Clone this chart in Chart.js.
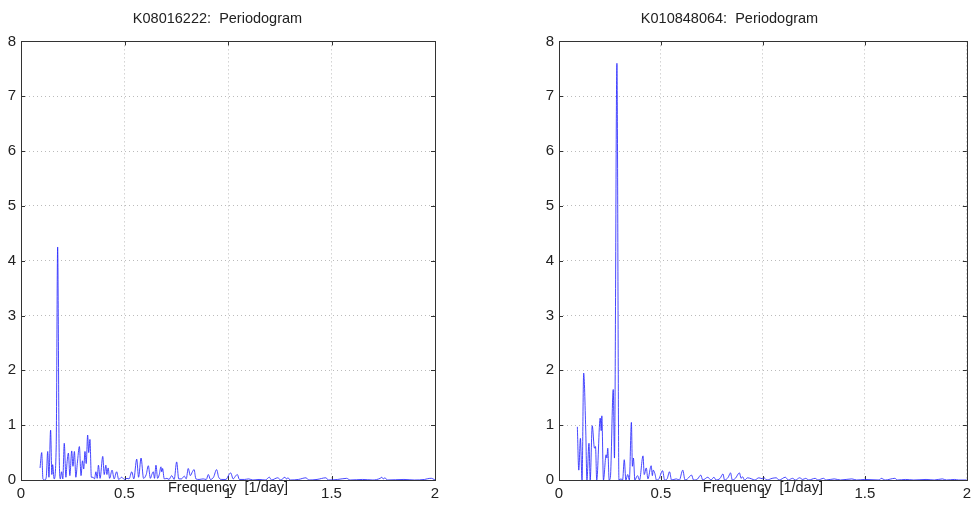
<!DOCTYPE html>
<html>
<head>
<meta charset="utf-8">
<script src="https://cdn.jsdelivr.net/npm/chart.js@4"></script>
<style>
  html, body { margin: 0; padding: 0; background: #fff; }
  .panel { position: absolute; top: 0; width: 488px; height: 526px; }
</style>
</head>
<body>
<div class="panel" style="left:0"><canvas id="chartA"></canvas></div>
<div class="panel" style="left:488px"><canvas id="chartB"></canvas></div>
<script>
// ======================
// Data
// ======================
const titleA = "K08016222:  Periodogram";
const titleB = "K010848064:  Periodogram";
const xTitle = "Frequency  [1/day]";

const freqA = [
  0.092, 0.100, 0.106, 0.115, 0.122, 0.129, 0.135, 0.143, 0.149, 0.153,
  0.160, 0.170, 0.177, 0.184, 0.190, 0.196, 0.202, 0.209, 0.217, 0.222,
  0.229, 0.236, 0.245, 0.251, 0.258, 0.265, 0.272, 0.282, 0.290, 0.297,
  0.303, 0.309, 0.315, 0.322, 0.327, 0.333, 0.340, 0.348, 0.355, 0.362,
  0.368, 0.374, 0.382, 0.395, 0.402, 0.410, 0.415, 0.421, 0.428, 0.440,
  0.450, 0.462, 0.472, 0.486, 0.500, 0.512, 0.522, 0.535, 0.545, 0.559,
  0.568, 0.580, 0.592, 0.605, 0.615, 0.625, 0.632, 0.639, 0.645, 0.652,
  0.660, 0.668, 0.676, 0.680, 0.684, 0.692, 0.705, 0.715, 0.728, 0.740,
  0.752, 0.762, 0.775, 0.789, 0.798, 0.808, 0.818, 0.828, 0.836, 0.845,
  0.860, 0.880, 0.895, 0.905, 0.915, 0.930, 0.945, 0.955, 0.970, 0.990,
  1.005, 1.013, 1.025, 1.038, 1.045, 1.055, 1.080, 1.100, 1.120, 1.150,
  1.180, 1.200, 1.210, 1.240, 1.255, 1.275, 1.282, 1.290, 1.300, 1.340,
  1.377, 1.390, 1.430, 1.473, 1.485, 1.530, 1.573, 1.590, 1.650, 1.700,
  1.735, 1.743, 1.750, 1.758, 1.770, 1.850, 1.900, 1.950, 1.975, 1.984,
  1.995, 2.000
];
const powerA = [
  0.22, 0.50, 0.02, 0.00, 0.05, 0.52, 0.05, 0.91, 0.10, 0.28,
  0.02, 0.60, 4.25, 0.60, 0.02, 0.15, 0.02, 0.67, 0.05, 0.30,
  0.49, 0.08, 0.53, 0.25, 0.52, 0.05, 0.30, 0.61, 0.08, 0.35,
  0.20, 0.52, 0.30, 0.82, 0.50, 0.74, 0.05, 0.05, 0.02, 0.15,
  0.03, 0.27, 0.03, 0.43, 0.10, 0.27, 0.10, 0.22, 0.03, 0.18,
  0.02, 0.15, 0.01, 0.05, 0.01, 0.03, 0.02, 0.15, 0.02, 0.38,
  0.05, 0.40, 0.03, 0.10, 0.26, 0.03, 0.10, 0.15, 0.03, 0.27,
  0.03, 0.10, 0.24, 0.15, 0.21, 0.02, 0.03, 0.01, 0.08, 0.01,
  0.33, 0.02, 0.02, 0.07, 0.02, 0.21, 0.08, 0.15, 0.19, 0.02,
  0.01, 0.02, 0.01, 0.10, 0.01, 0.05, 0.19, 0.05, 0.01, 0.01,
  0.10, 0.13, 0.02, 0.08, 0.10, 0.01, 0.01, 0.02, 0.00, 0.01,
  0.00, 0.05, 0.00, 0.04, 0.00, 0.05, 0.02, 0.04, 0.00, 0.01,
  0.04, 0.00, 0.01, 0.04, 0.00, 0.01, 0.03, 0.00, 0.01, 0.00,
  0.03, 0.05, 0.02, 0.04, 0.00, 0.01, 0.00, 0.01, 0.03, 0.03,
  0.01, 0.00
];

const freqB = [
  0.090, 0.097, 0.105, 0.113, 0.121, 0.131, 0.137, 0.147, 0.153, 0.163,
  0.174, 0.179, 0.185, 0.202, 0.207, 0.210, 0.218, 0.231, 0.235, 0.239,
  0.246, 0.252, 0.266, 0.272, 0.284, 0.294, 0.304, 0.312, 0.320, 0.328,
  0.337, 0.345, 0.355, 0.360, 0.365, 0.372, 0.385, 0.395, 0.412, 0.418,
  0.428, 0.436, 0.452, 0.458, 0.462, 0.470, 0.478, 0.490, 0.508, 0.518,
  0.530, 0.542, 0.552, 0.575, 0.590, 0.607, 0.618, 0.630, 0.650, 0.660,
  0.680, 0.695, 0.705, 0.730, 0.745, 0.760, 0.770, 0.790, 0.804, 0.812,
  0.830, 0.841, 0.850, 0.865, 0.885, 0.893, 0.900, 0.910, 0.925, 0.945,
  0.960, 0.980, 1.000, 1.005, 1.020, 1.045, 1.065, 1.080, 1.110, 1.125,
  1.145, 1.160, 1.180, 1.195, 1.210, 1.225, 1.256, 1.270, 1.297, 1.310,
  1.350, 1.380, 1.436, 1.460, 1.500, 1.570, 1.580, 1.600, 1.647, 1.660,
  1.700, 1.740, 1.800, 1.840, 1.880, 1.900, 1.940, 1.960, 2.000
];
const powerB = [
  0.97, 0.18, 0.76, 0.00, 1.95, 0.93, 0.00, 0.67, 0.00, 0.99,
  0.58, 0.61, 0.00, 1.13, 0.90, 1.17, 0.00, 0.46, 0.40, 0.58,
  0.00, 0.05, 1.65, 0.40, 7.60, 0.00, 0.02, 0.00, 0.37, 0.00,
  0.10, 0.00, 1.05, 0.25, 0.40, 0.00, 0.08, 0.00, 0.44, 0.10,
  0.22, 0.02, 0.26, 0.08, 0.18, 0.12, 0.00, 0.02, 0.17, 0.00,
  0.02, 0.15, 0.00, 0.02, 0.00, 0.18, 0.00, 0.02, 0.09, 0.00,
  0.02, 0.09, 0.00, 0.05, 0.00, 0.05, 0.00, 0.03, 0.11, 0.00,
  0.05, 0.13, 0.00, 0.03, 0.13, 0.03, 0.06, 0.00, 0.04, 0.02,
  0.00, 0.04, 0.02, 0.04, 0.00, 0.03, 0.04, 0.00, 0.05, 0.00,
  0.03, 0.00, 0.04, 0.01, 0.03, 0.00, 0.03, 0.00, 0.03, 0.00,
  0.02, 0.00, 0.02, 0.00, 0.01, 0.00, 0.03, 0.00, 0.03, 0.00,
  0.01, 0.00, 0.01, 0.00, 0.02, 0.00, 0.01, 0.00, 0.00
];

const xMin = 0, xMax = 2, xStep = 0.5;
const yMin = 0, yMax = 8, yStep = 1;

// ======================
// Khung hộp + vạch chia hướng vào trong (kiểu MATLAB)
// vẽ trước đường dữ liệu để đường xanh nằm trên trục 0
// ======================
const boxPlugin = {
  id: "box",
  beforeDatasetsDraw(chart) {
    const { ctx, chartArea: a, scales } = chart;
    ctx.save();
    ctx.strokeStyle = "#333";
    ctx.lineWidth = 1;
    ctx.strokeRect(Math.round(a.left) + 0.5, Math.round(a.top) + 0.5,
      Math.round(a.right - a.left), Math.round(a.bottom - a.top));
    ctx.beginPath();
    scales.x.ticks.forEach(t => {
      const px = Math.round(scales.x.getPixelForValue(t.value)) + 0.5;
      ctx.moveTo(px, a.bottom); ctx.lineTo(px, a.bottom - 4);
      ctx.moveTo(px, a.top); ctx.lineTo(px, a.top + 4);
    });
    scales.y.ticks.forEach(t => {
      const py = Math.round(scales.y.getPixelForValue(t.value)) + 0.5;
      ctx.moveTo(a.left, py); ctx.lineTo(a.left + 4, py);
      ctx.moveTo(a.right, py); ctx.lineTo(a.right - 4, py);
    });
    ctx.stroke();
    ctx.restore();
  }
};

function makePeriodogram(canvasId, title, freq, power, yAxisWidth, padRight) {
  const points = freq.map((f, i) => ({ x: f, y: power[i] }));
  const tickFont = { family: "'Liberation Sans', Arial, sans-serif", size: 15 };
  const labelFont = { family: "'Liberation Sans', Arial, sans-serif", size: 14.5 };
  return new Chart(document.getElementById(canvasId), {
    type: "line",
    data: {
      datasets: [{
        data: points,
        borderColor: "rgba(40, 40, 255, 0.85)",
        borderWidth: 1,
        pointRadius: 0,
        cubicInterpolationMode: "monotone",
        fill: false
      }]
    },
    options: {
      responsive: true,
      maintainAspectRatio: false,
      animation: false,
      layout: { padding: { left: 0, right: padRight, top: 0, bottom: 0 } },
      plugins: {
        legend: { display: false },
        tooltip: { enabled: false },
        title: {
          display: true,
          text: title,
          color: "#222",
          font: { ...labelFont, weight: "normal" },
          padding: { top: 10, bottom: 14 }
        }
      },
      scales: {
        x: {
          type: "linear",
          min: xMin, max: xMax,
          afterFit: s => { s.height = 46; },
          ticks: {
            stepSize: xStep, color: "#222", font: tickFont, padding: 5, maxRotation: 0,
            callback: v => String(v)
          },
          grid: { color: "#bbb", drawTicks: false },
          border: { display: false, dash: [1, 3] },
          title: { display: true, text: xTitle, color: "#222", font: labelFont, padding: { top: 0, bottom: 29 } }
        },
        y: {
          min: yMin, max: yMax,
          afterFit: s => { s.width = yAxisWidth; },
          ticks: { stepSize: yStep, color: "#222", font: tickFont, padding: 5 },
          grid: { color: "#bbb", drawTicks: false },
          border: { display: false, dash: [1, 3] }
        }
      }
    },
    plugins: [boxPlugin]
  });
}

document.addEventListener("DOMContentLoaded", function () {
  makePeriodogram("chartA", titleA, freqA, powerA, 21, 53);
  makePeriodogram("chartB", titleB, freqB, powerB, 71, 5);
});
</script>
</body>
</html>
